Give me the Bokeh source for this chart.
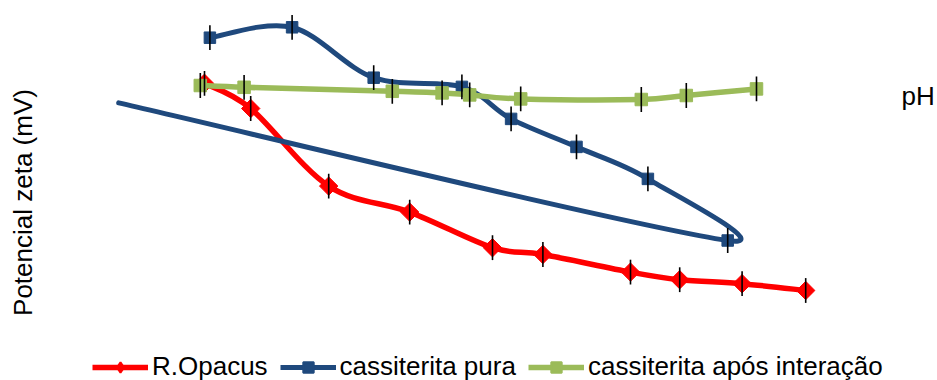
import math
from bokeh.plotting import figure
from bokeh.models import Range1d, Label, Legend, LegendItem
from bokeh.embed import file_html
from bokeh.resources import INLINE

# ---- data (pH, zeta potential mV) ----
ro_ph = [2.0, 2.77, 4.07, 5.42, 6.8, 7.64, 9.1, 9.92, 10.96, 12.02]
ro_mv = [16.8, 10.5, -8.9, -15.4, -24.3, -26.0, -30.4, -32.3, -33.3, -35.0]

cp_ph = [2.09, 3.46, 4.82, 6.29, 7.11, 8.2, 9.39, 10.72, 0.57]
cp_mv = [28.2, 30.8, 18.2, 15.9, 7.9, 0.9, -7.1, -22.5, 11.9]
cp_marked = 8  # last point lies outside the plotted area (no marker)

ci_ph = [1.93, 2.66, 5.13, 5.96, 6.42, 7.27, 9.28, 10.03, 11.2]
ci_mv = [16.25, 15.8, 14.8, 14.4, 13.9, 12.9, 12.75, 13.75, 15.4]

err_mv = 3.1

labels = ["R.Opacus", "cassiterita pura", "cassiterita após interação"]
colors = ["#FF0000", "#1F497D", "#9BBB59"]
FONT = "Liberation Sans"
FS = "26px"

W, H = 937, 380
X0, X1 = -1.4, 14.2167
Y0, Y1 = -57.5, 37.5
SX = W / (X1 - X0)
SY = H / (Y1 - Y0)

p = figure(width=W, height=H, output_backend="svg", toolbar_location=None,
           x_range=Range1d(X0, X1), y_range=Range1d(Y0, Y1),
           x_axis_location=None, y_axis_location=None,
           min_border=0, outline_line_color=None, background_fill_color="white")
p.grid.visible = False


def smooth(xs, ys):
    """Excel-like smoothed line: cubic Bezier segments (Catmull-Rom, capped)."""
    P = [(x * SX, y * SY) for x, y in zip(xs, ys)]
    n = len(P)
    d = lambda a, b: math.hypot(a[0] - b[0], a[1] - b[1])
    out = {k: [] for k in ["x0", "y0", "x1", "y1", "cx0", "cy0", "cx1", "cy1"]}
    for i in range(n - 1):
        p0 = P[i - 1] if i > 0 else P[i]
        p1, p2 = P[i], P[i + 1]
        p3 = P[i + 2] if i + 2 < n else P[i + 1]
        d12, d02, d13 = d(p1, p2), d(p0, p2), d(p1, p3)
        f1 = 1 / 6 if d02 == 0 else min(1 / 6, d12 / (2 * d02))
        f2 = 1 / 6 if d13 == 0 else min(1 / 6, d12 / (2 * d13))
        c1 = (p1[0] + (p2[0] - p0[0]) * f1, p1[1] + (p2[1] - p0[1]) * f1)
        c2 = (p2[0] - (p3[0] - p1[0]) * f2, p2[1] - (p3[1] - p1[1]) * f2)
        out["x0"].append(p1[0] / SX); out["y0"].append(p1[1] / SY)
        out["x1"].append(p2[0] / SX); out["y1"].append(p2[1] / SY)
        out["cx0"].append(c1[0] / SX); out["cy0"].append(c1[1] / SY)
        out["cx1"].append(c2[0] / SX); out["cy1"].append(c2[1] / SY)
    return out


series = [
    # xs, ys, n marked, marker, size, angle, line width, legend marker
    (ro_ph, ro_mv, len(ro_ph), "square", 13, math.pi / 4, 5.5, "diamond"),
    (cp_ph, cp_mv, cp_marked, "square", 11.5, 0, 5, "square"),
    (ci_ph, ci_mv, len(ci_ph), "square", 12.5, 0, 5.5, "square"),
]

items = []
err_x, err_lo, err_hi = [], [], []
for (xs, ys, nm, marker, size, ang, lw, lmk), lab, col in zip(series, labels, colors):
    b = smooth(xs, ys)
    p.bezier(x0=b["x0"], y0=b["y0"], x1=b["x1"], y1=b["y1"],
             cx0=b["cx0"], cy0=b["cy0"], cx1=b["cx1"], cy1=b["cy1"],
             line_color=col, line_width=lw, line_cap="round")
    p.scatter(xs[:nm], ys[:nm], marker=marker, size=size, angle=ang,
              fill_color=col, line_color=col)
    # legend-only glyphs (no visible data)
    leg_line = p.line(x=[math.nan], y=[math.nan], line_color=col, line_width=lw)
    leg_mk = p.scatter(x=[math.nan], y=[math.nan], marker=lmk, size=12,
                       fill_color=col, line_color=col, line_width=2)
    items.append(LegendItem(label=lab, renderers=[leg_line, leg_mk]))
    err_x += xs[:nm]
    err_lo += [v - err_mv for v in ys[:nm]]
    err_hi += [v + err_mv for v in ys[:nm]]

p.segment(x0=err_x, y0=err_lo, x1=err_x, y1=err_hi, line_color="black", line_width=1.6)

legend = Legend(items=items, orientation="horizontal", location=(92, -2),
                padding=0, margin=0, spacing=12, label_standoff=4,
                glyph_width=56, glyph_height=26, label_height=26,
                label_text_font_size=FS, label_text_font=FONT,
                label_text_color="black",
                border_line_color=None, background_fill_alpha=0)
p.add_layout(legend)

p.add_layout(Label(x=22, y=178, x_units="screen", y_units="screen",
                   text="Potencial zeta (mV)", angle=math.pi / 2,
                   text_align="center", text_baseline="middle",
                   text_font=FONT, text_font_size=FS, text_color="black"))
p.add_layout(Label(x=901, y=285, x_units="screen", y_units="screen",
                   text="pH", text_align="left", text_baseline="alphabetic",
                   text_font=FONT, text_font_size=FS, text_color="black"))

open("out.html", "w").write(file_html(p, INLINE))
